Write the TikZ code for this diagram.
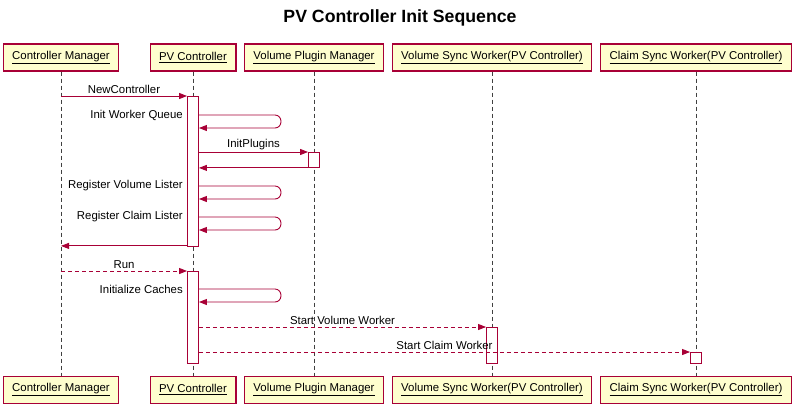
\documentclass[tikz,border=0pt]{standalone}
\usepackage{fontspec}
\setmainfont{Liberation Sans}
\usetikzlibrary{arrows.meta,positioning}
\definecolor{umlred}{HTML}{A80036}
\definecolor{umlfill}{HTML}{FEFECE}

\begin{document}
\begin{tikzpicture}[x=1pt, y=-1pt, semithick, font=\fontsize{11.4}{13}\selectfont,
  part/.style={draw=umlred, fill=umlfill, line width=1.2pt, minimum height=27pt, inner xsep=9pt},
  life/.style={draw=black!75, dash pattern=on 4pt off 3pt, line width=0.8pt},
  bar/.style={draw=umlred, fill=white, line width=0.9pt, minimum width=11pt, inner sep=0pt, anchor=north},
  msg/.style={draw=umlred, line width=0.9pt, -{Triangle[length=8pt,width=6pt]}},
  async/.style={msg, dash pattern=on 4pt off 3pt},
  lbl/.style={above, inner sep=1.5pt},
  selflbl/.style={anchor=east, inner sep=0pt}]
  \fill[white] (0,0) rectangle (800,410);
  \useasboundingbox (0,0) rectangle (800,410);
  \node[font=\bfseries\fontsize{17.7}{20}\selectfont] (title) at (400,18) {PV Controller Init Sequence};

  % participants
  \node[part] (cm) at (61,57.5)  {\underline{Controller Manager}};
  \node[part] (pc) at (193,57.5) {\underline{PV Controller}};
  \node[part] (vp) at (314,57.5) {\underline{Volume Plugin Manager}};
  \node[part] (vs) at (492,57.5) {\underline{Volume Sync Worker(PV Controller)}};
  \node[part] (cs) at (696,57.5) {\underline{Claim Sync Worker(PV Controller)}};

  \node[part, below=304pt of cm] (cmB) {\underline{Controller Manager}};
  \node[part, below=304pt of pc] (pcB) {\underline{PV Controller}};
  \node[part, below=304pt of vp] (vpB) {\underline{Volume Plugin Manager}};
  \node[part, below=304pt of vs] (vsB) {\underline{Volume Sync Worker(PV Controller)}};
  \node[part, below=304pt of cs] (csB) {\underline{Claim Sync Worker(PV Controller)}};

  % lifelines
  \draw[life] (cm) -- (cmB);
  \draw[life] (pc) -- (pcB);
  \draw[life] (vp) -- (vpB);
  \draw[life] (vs) -- (vsB);
  \draw[life] (cs) -- (csB);

  % activations
  \node[bar, minimum height=150pt] (pcA1) at (pc.south |- 0,96)  {};
  \node[bar, minimum height=15pt]  (vpA)  at (vp.south |- 0,152) {};
  \node[bar, minimum height=92pt]  (pcA2) at (pc.south |- 0,271) {};
  \node[bar, minimum height=36pt]  (vsA)  at (vs.south |- 0,327) {};
  \node[bar, minimum height=11pt]  (csA)  at (cs.south |- 0,352) {};

  % init
  \draw[msg] (cm |- pcA1.north) -- (pcA1.north west) node[lbl, midway] {NewController};
  \draw[msg, rounded corners=6pt] (pcA1.east |- 0,115) -- ++(82,0) -- ++(0,13) -- (pcA1.east |- 0,128);
  \node[selflbl] (iwq) at ([xshift=-4pt]pcA1.west |- 0,115) {Init Worker Queue};
  \draw[msg] (pcA1.east |- vpA.north) -- (vpA.north west) node[lbl, midway] {InitPlugins};
  \draw[msg] (vpA.south west) -- (pcA1.east |- vpA.south);
  \draw[msg, rounded corners=6pt] (pcA1.east |- 0,186) -- ++(82,0) -- ++(0,13) -- (pcA1.east |- 0,199);
  \node[selflbl] (rvl) at ([xshift=-4pt]pcA1.west |- 0,186) {Register Volume Lister};
  \draw[msg, rounded corners=6pt] (pcA1.east |- 0,217) -- ++(82,0) -- ++(0,13) -- (pcA1.east |- 0,230);
  \node[selflbl] (rcl) at ([xshift=-4pt]pcA1.west |- 0,217) {Register Claim Lister};
  \draw[msg] ([yshift=1pt]pcA1.south west) -- ([yshift=1pt]cm |- pcA1.south);

  % run
  \draw[async] (cm |- pcA2.north) -- (pcA2.north west) node[lbl, midway] {Run};
  \draw[msg, rounded corners=6pt] (pcA2.east |- 0,289) -- ++(82,0) -- ++(0,13) -- (pcA2.east |- 0,302);
  \node[selflbl] (ic) at ([xshift=-4pt]pcA2.west |- 0,289) {Initialize Caches};
  \draw[async] (pcA2.east |- vsA.north) -- (vsA.north west) node[lbl, midway] {Start Volume Worker};
  \draw[async] (pcA2.east |- csA.north) -- (csA.north west) node[lbl, midway] {Start Claim Worker};
\end{tikzpicture}
\end{document}
